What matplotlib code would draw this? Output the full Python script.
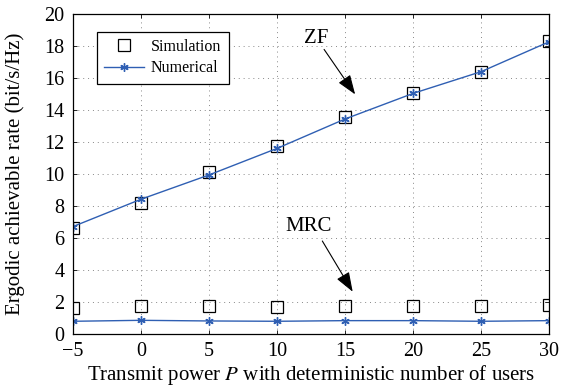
import matplotlib
matplotlib.use("Agg")
import matplotlib.pyplot as plt

power = [-5, 0, 5, 10, 15, 20, 25, 30]
zf_sim = [6.6, 8.2, 10.1, 11.75, 13.58, 15.04, 16.35, 18.3]
zf_num = [6.71, 8.42, 9.94, 11.6, 13.44, 15.04, 16.4, 18.27]
mrc_sim = [1.6, 1.77, 1.77, 1.67, 1.73, 1.73, 1.77, 1.81]
mrc_num = [0.79, 0.85, 0.81, 0.79, 0.83, 0.83, 0.79, 0.83]

plt.rcParams['font.family'] = ['Liberation Serif', 'DejaVu Serif']
plt.rcParams['mathtext.fontset'] = 'stix'

fig, ax = plt.subplots(figsize=(5.65, 3.91), dpi=100)
fig.subplots_adjust(left=0.129, right=0.972, top=0.964, bottom=0.146)

blue = '#2f5fb3'
star = (6, 2, 0)
ax.plot(power, zf_sim, 's', mfc='none', mec='black', ms=8, mew=0.9, ls='none', label='Simulation')
ax.plot(power, zf_num, '-', marker=star, color=blue, lw=1, ms=6, mew=1, label='Numerical')
ax.plot(power, mrc_sim, 's', mfc='none', mec='black', ms=8, mew=0.9, ls='none')
ax.plot(power, mrc_num, '-', marker=star, color=blue, lw=1, ms=6, mew=1)

ax.set_xlim(-5, 30)
ax.set_ylim(0, 20)
ax.set_xticks(power)
ax.set_xticklabels(['\u22125' if p < 0 else str(p) for p in power])
ax.set_yticks(range(0, 21, 2))
ax.grid(True, linestyle=(0, (1, 4)), color='#888888', lw=0.7)
ax.tick_params(labelsize=14.5, direction='in', length=3, width=0.6, pad=6,
               top=True, right=True)
for s in ax.spines.values():
    s.set_linewidth(0.9)
ax.set_xlabel('Transmit power $P$ with deterministic number of users', fontsize=15, labelpad=1)
ax.set_ylabel('Ergodic achievable rate (bit/s/Hz)', fontsize=15)
ax.yaxis.set_label_coords(-0.101, 0.5)

arrow = dict(arrowstyle='-|>,head_length=0.6,head_width=0.22', color='black', lw=0.8,
             mutation_scale=20, shrinkA=0, shrinkB=0)
ax.annotate('ZF', xy=(15.74, 14.98), xytext=(12.85, 18.48), fontsize=15, ha='center', va='center')
ax.annotate('', xy=(15.74, 14.98), xytext=(13.46, 17.79), arrowprops=arrow)
ax.annotate('MRC', xy=(15.56, 2.64), xytext=(12.3, 6.7), fontsize=15, ha='center', va='center')
ax.annotate('', xy=(15.56, 2.64), xytext=(13.33, 5.81), arrowprops=arrow)

leg = ax.legend(loc='upper left', bbox_to_anchor=(0.05, 0.945), borderaxespad=0, fontsize=11.5,
                fancybox=False, edgecolor='black', framealpha=1, borderpad=0.45,
                handlelength=2.5, handletextpad=0.45, labelspacing=0.35)
leg.get_frame().set_linewidth(0.9)

fig.savefig('out.png', dpi=100)
